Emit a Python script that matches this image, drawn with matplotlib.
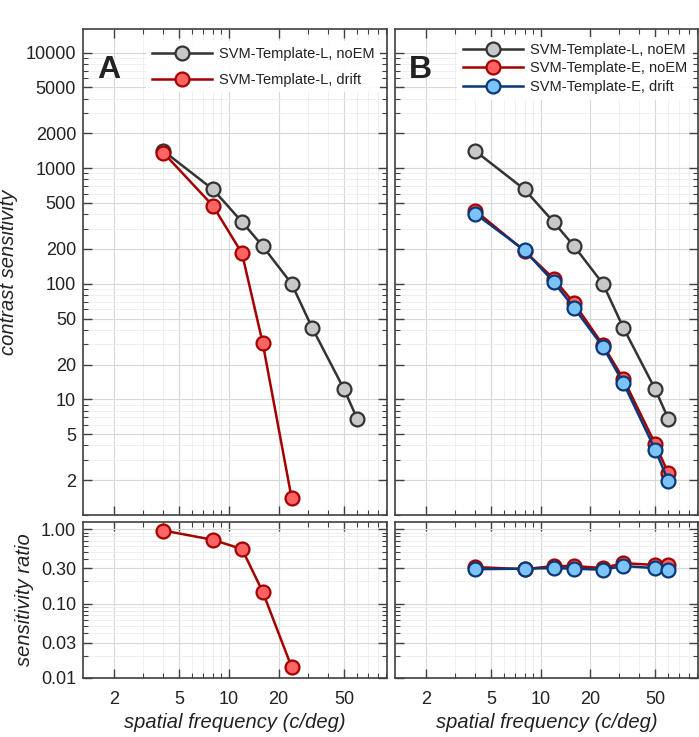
import matplotlib
matplotlib.use("Agg")
import matplotlib.pyplot as plt
from matplotlib.ticker import FixedLocator, NullFormatter, LogLocator, FixedFormatter
import numpy as np

plt.rcParams['font.family'] = ['Liberation Sans', 'DejaVu Sans']

# ---------------- data ----------------
sf = [4, 8, 12, 16, 24, 32, 50, 60]
sf_drift_L = [4, 8, 12, 16, 24]

cs_L_noEM = [1410, 655, 343, 212, 100, 41.5, 12.2, 6.8]
cs_L_drift = [1360, 472, 183, 31, 1.4]
ratio_L_drift = [0.96, 0.72, 0.54, 0.145, 0.014]

cs_E_noEM = [430, 192, 111, 68, 29.6, 15.0, 4.1, 2.3]
cs_E_drift = [405, 195, 104, 62, 28.5, 13.8, 3.66, 1.97]
ratio_E_noEM = [0.31, 0.29, 0.32, 0.32, 0.30, 0.35, 0.33, 0.33]
ratio_E_drift = [0.29, 0.295, 0.30, 0.295, 0.285, 0.32, 0.30, 0.285]

xticks = [2, 5, 10, 20, 50]
xticklabels = ['2', '5', '10', '20', '50']
yticks_top = [2, 5, 10, 20, 50, 100, 200, 500, 1000, 2000, 5000, 10000]
yticklabels_top = ['2', '5', '10', '20', '50', '100', '200', '500', '1000', '2000', '5000', '10000']
yticks_bot = [0.01, 0.03, 0.1, 0.3, 1.0]
yticklabels_bot = ['0.01', '0.03', '0.10', '0.30', '1.00']

# ---------------- styles ----------------
GRAY_LINE = '#333333'
GRAY_FILL = '#c8c8c8'
RED_LINE = '#a50000'
RED_FILL = '#ff6464'
BLUE_LINE = '#0a3778'
BLUE_FILL = '#7cc4f8'
SPINE = '#404040'

W, H = 699, 737
fig = plt.figure(figsize=(W / 100, H / 100), dpi=100)

def rect(l, r, t, b):
    return [l / W, (H - b) / H, (r - l) / W, (b - t) / H]

axA = fig.add_axes(rect(83, 387, 29, 515))
axAr = fig.add_axes(rect(83, 387, 522, 678))
axB = fig.add_axes(rect(395, 698, 29, 515))
axBr = fig.add_axes(rect(395, 698, 522, 678))

XLIM = (1.3, 91)

def style(ax, ylim, yt, ytl, show_x, show_y):
    ax.set_xscale('log')
    ax.set_yscale('log')
    ax.set_xlim(*XLIM)
    ax.set_ylim(*ylim)
    ax.xaxis.set_major_locator(FixedLocator(xticks))
    ax.xaxis.set_minor_locator(LogLocator(base=10, subs=np.arange(1, 10)))
    ax.yaxis.set_major_locator(FixedLocator(yt))
    ax.yaxis.set_minor_locator(LogLocator(base=10, subs=np.arange(1, 10), numticks=20))
    ax.xaxis.set_minor_formatter(NullFormatter())
    ax.yaxis.set_minor_formatter(NullFormatter())
    if show_x:
        ax.xaxis.set_major_formatter(FixedFormatter(xticklabels))
    else:
        ax.xaxis.set_major_formatter(NullFormatter())
    if show_y:
        ax.yaxis.set_major_formatter(FixedFormatter(ytl))
    else:
        ax.yaxis.set_major_formatter(NullFormatter())
    ax.tick_params(which='both', direction='in', top=True, right=True,
                   color=SPINE, labelsize=13, labelcolor='#222222')
    ax.tick_params(axis='y', pad=5)
    ax.tick_params(axis='x', pad=9)
    ax.tick_params(which='major', length=6.5, width=1)
    ax.tick_params(which='minor', length=3.5, width=0.8)
    ax.grid(True, which='major', color='#d8d8d8', linewidth=0.8)
    ax.grid(True, which='minor', color='#ececec', linewidth=0.6)
    ax.set_axisbelow(True)
    for s in ax.spines.values():
        s.set_color(SPINE)
        s.set_linewidth(1.2)

TOP_YLIM = (1, 16000)
BOT_YLIM = (0.01, 1.25)

style(axA, TOP_YLIM, yticks_top, yticklabels_top, False, True)
style(axAr, BOT_YLIM, yticks_bot, yticklabels_bot, True, True)
style(axB, TOP_YLIM, yticks_top, yticklabels_top, False, False)
style(axBr, BOT_YLIM, yticks_bot, yticklabels_bot, True, False)

mk = dict(marker='o', markersize=10, markeredgewidth=1.6, linewidth=1.8, clip_on=False, zorder=3)

# Panel A
axA.plot(sf, cs_L_noEM, color=GRAY_LINE, markerfacecolor=GRAY_FILL, markeredgecolor=GRAY_LINE,
         label='SVM-Template-L, noEM', **mk)
axA.plot(sf_drift_L, cs_L_drift, color=RED_LINE, markerfacecolor=RED_FILL, markeredgecolor=RED_LINE,
         label='SVM-Template-L, drift', **mk)
axAr.plot(sf_drift_L, ratio_L_drift, color=RED_LINE, markerfacecolor=RED_FILL, markeredgecolor=RED_LINE, **mk)

# Panel B
axB.plot(sf, cs_L_noEM, color=GRAY_LINE, markerfacecolor=GRAY_FILL, markeredgecolor=GRAY_LINE,
         label='SVM-Template-L, noEM', **mk)
axB.plot(sf, cs_E_noEM, color=RED_LINE, markerfacecolor=RED_FILL, markeredgecolor=RED_LINE,
         label='SVM-Template-E, noEM', **mk)
axB.plot(sf, cs_E_drift, color=BLUE_LINE, markerfacecolor=BLUE_FILL, markeredgecolor=BLUE_LINE,
         label='SVM-Template-E, drift', **mk)
axBr.plot(sf, ratio_E_noEM, color=RED_LINE, markerfacecolor=RED_FILL, markeredgecolor=RED_LINE, **mk)
axBr.plot(sf, ratio_E_drift, color=BLUE_LINE, markerfacecolor=BLUE_FILL, markeredgecolor=BLUE_LINE, **mk)

def add_legend(ax, anchor, spacing):
    lg = ax.legend(loc='upper left', bbox_to_anchor=anchor, frameon=True, fontsize=10.5,
                   handlelength=4.1, handletextpad=0.5, labelspacing=spacing,
                   borderaxespad=0.0, borderpad=0.4)
    lg.get_frame().set_facecolor('white')
    lg.get_frame().set_edgecolor('none')
    lg.get_frame().set_alpha(0.92)
    for t in lg.get_texts():
        t.set_color('#222222')
    return lg

add_legend(axA, (0.207, 0.975), 0.8)
add_legend(axB, (0.205, 0.983), 0.3)

axA.text(0.047, 0.899, 'A', transform=axA.transAxes, fontsize=23, fontweight='bold',
         va='baseline', ha='left', color='#222222', zorder=5)
axB.text(0.047, 0.899, 'B', transform=axB.transAxes, fontsize=23, fontweight='bold',
         va='baseline', ha='left', color='#222222', zorder=5)

lab = dict(fontsize=14.5, style='italic', color='#222222')
axA.set_ylabel('contrast sensitivity', **lab)
axA.yaxis.set_label_coords(-0.214, 0.5)
axAr.set_ylabel('sensitivity ratio', **lab)
axAr.yaxis.set_label_coords(-0.161, 0.5)
axAr.set_xlabel('spatial frequency (c/deg)', labelpad=4, **lab)
axBr.set_xlabel('spatial frequency (c/deg)', labelpad=4, **lab)

fig.savefig('out.png', dpi=100)
